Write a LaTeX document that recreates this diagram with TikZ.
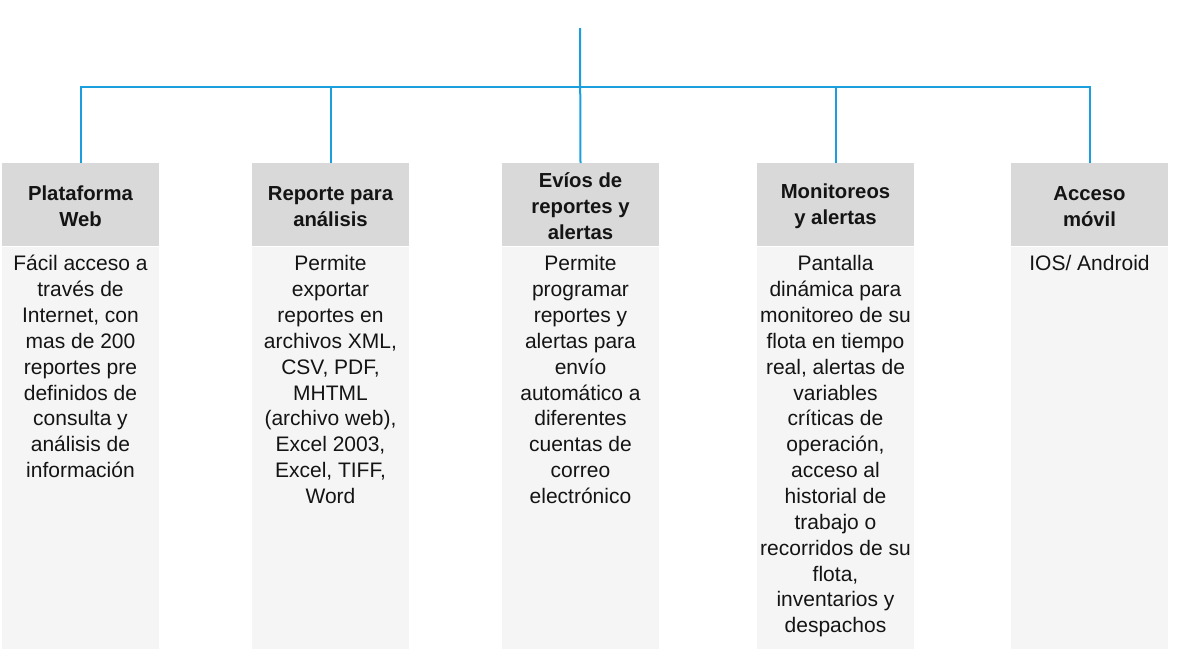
\documentclass[tikz,border=0pt]{standalone}
\usepackage{fontspec}
\setmainfont{Liberation Sans}
\definecolor{linkblue}{RGB}{27,158,222}
\definecolor{headgray}{RGB}{217,217,217}
\definecolor{bodygray}{RGB}{245,245,245}
\definecolor{txt}{RGB}{20,20,20}
\newcommand{\fl}{\rule{0pt}{16pt}}
\begin{document}
\begin{tikzpicture}[x=1pt,y=-1pt,
  conn/.style={draw=linkblue,line width=2pt},
  headbox/.style={fill=headgray,minimum width=157pt,minimum height=83pt,inner sep=0pt,anchor=north,
    font=\fontsize{20.3}{26}\selectfont\bfseries,align=center,text=txt},
  headtext/.style={inner sep=0pt,align=center,font=\fontsize{20.3}{26}\selectfont\bfseries,text=txt},
  bodybox/.style={fill=bodygray,minimum width=157pt,minimum height=402pt,inner sep=0pt,anchor=north},
  bodytext/.style={anchor=north,inner sep=0pt,align=center,font=\fontsize{21}{25.86}\selectfont,text=txt}]
\useasboundingbox (0,0) rectangle (1181,659);

% headers
\node[headbox] (h1) at (80.5,163) {};
\node[headbox] (h2) at (330.5,163) {};
\node[headbox] (h3) at (580.5,163) {};
\node[headbox] (h4) at (835.5,163) {};
\node[headbox] (h5) at (1089.5,163) {};
\node[headtext] (l1) at ([yshift=-1.5pt]h1.center) {Plataforma\\Web};
\node[headtext] (l2) at ([yshift=-1.5pt]h2.center) {Reporte para\\análisis};
\node[headtext] (l3) at ([yshift=-1pt]h3.center) {Evíos de\\reportes y\\alertas};
\node[headtext] (l4) at ([yshift=-1.5pt]h4.center) {Monitoreos\\y alertas};
\node[headtext] (l5) at ([yshift=-1.5pt]h5.center) {Acceso\\móvil};

% bodies
\node[bodybox] (b1) at (80.5,247) {};
\node[bodybox] (b2) at (330.5,247) {};
\node[bodybox] (b3) at (580.5,247) {};
\node[bodybox] (b4) at (835.5,247) {};
\node[bodybox] (b5) at (1089.5,247) {};

\node[bodytext] (t1) at (80.5,254.5) {\fl Fácil acceso a\\través de\\Internet, con\\mas de 200\\reportes pre\\definidos de\\consulta y\\análisis de\\información};
\node[bodytext] (t2) at (330.5,254.5) {\fl Permite\\exportar\\reportes en\\archivos XML,\\CSV, PDF,\\MHTML\\(archivo web),\\Excel 2003,\\Excel, TIFF,\\Word};
\node[bodytext] (t3) at (580.5,254.5) {\fl Permite\\programar\\reportes y\\alertas para\\envío\\automático a\\diferentes\\cuentas de\\correo\\electrónico};
\node[bodytext] (t4) at (835.5,254.5) {\fl Pantalla\\dinámica para\\monitoreo de su\\flota en tiempo\\real, alertas de\\variables\\críticas de\\operación,\\acceso al\\historial de\\trabajo o\\recorridos de su\\flota,\\inventarios y\\despachos};
\node[bodytext] (t5) at (1089.5,254.5) {\fl IOS/ Android};

% connectors
\coordinate (top) at (580,28);
\coordinate (bus) at (580,87);
\draw[conn] (top) -- (h3.north);
\draw[conn] (h1.north) |- (bus) -| (h5.north);
\draw[conn] (h2.north) -- (h2.north |- bus);
\draw[conn] (h4.north) -- (h4.north |- bus);
\end{tikzpicture}
\end{document}
